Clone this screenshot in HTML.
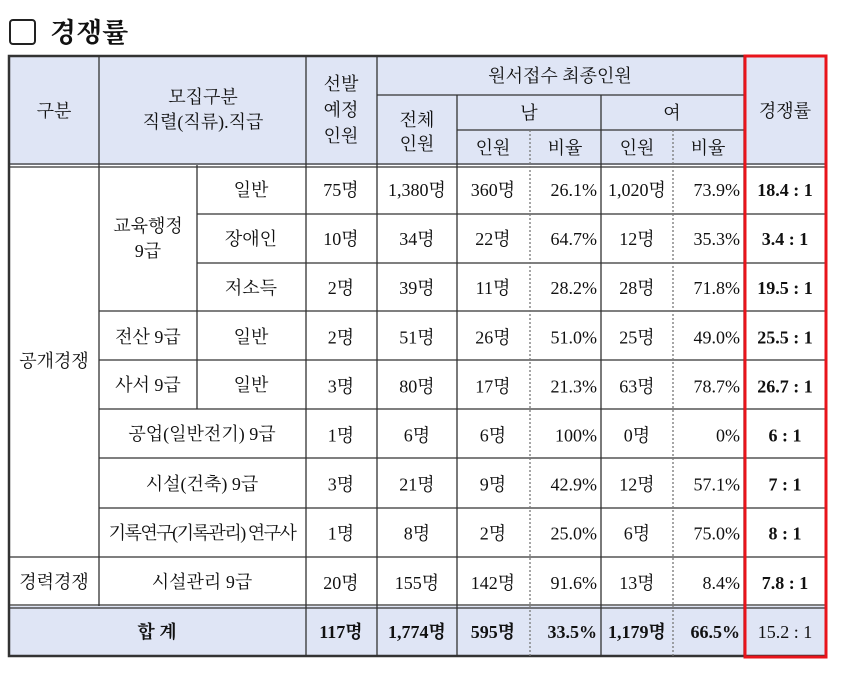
<!DOCTYPE html>
<html><head><meta charset="utf-8"><style>
body{margin:0;background:#fff;width:850px;height:672px;overflow:hidden}
svg text{font-family:"Liberation Serif","Noto Serif CJK SC","Noto Serif CJK KR",serif;font-size:18px;fill:#111}
.b{font-weight:bold}
</style></head><body>
<svg width="850" height="672">
<rect x="10" y="20" width="25" height="24" rx="3" fill="none" stroke="#222" stroke-width="2"/>
<text x="50" y="42" style="font-size:27px;font-weight:bold">경쟁률</text>
<rect x="9" y="56" width="817" height="109" fill="#dfe5f5"/>
<rect x="9" y="606" width="817" height="50" fill="#dfe5f5"/>
<g stroke="#333" stroke-width="1.3" fill="none">
<rect x="9" y="56" width="817" height="600" stroke-width="2.5"/>
<line x1="9" y1="164" x2="826" y2="164"/><line x1="9" y1="167" x2="826" y2="167"/>
<line x1="9" y1="557" x2="826" y2="557"/>
<line x1="9" y1="605" x2="826" y2="605"/><line x1="9" y1="608" x2="826" y2="608"/>
<line x1="99" y1="56" x2="99" y2="606"/>
<line x1="197" y1="165" x2="197" y2="409"/>
<line x1="306" y1="56" x2="306" y2="656"/>
<line x1="377" y1="56" x2="377" y2="656"/>
<line x1="457" y1="95" x2="457" y2="656"/>
<line x1="601" y1="95" x2="601" y2="656"/>
<line x1="744" y1="56" x2="744" y2="656"/>
<line x1="377" y1="95" x2="744" y2="95"/>
<line x1="457" y1="130" x2="744" y2="130"/>
<line x1="197" y1="214" x2="826" y2="214"/>
<line x1="197" y1="263" x2="826" y2="263"/>
<line x1="99" y1="311" x2="826" y2="311"/>
<line x1="99" y1="360" x2="826" y2="360"/>
<line x1="99" y1="409" x2="826" y2="409"/>
<line x1="99" y1="458" x2="826" y2="458"/>
<line x1="99" y1="508" x2="826" y2="508"/>
<g stroke-dasharray="2,2" stroke="#777"><line x1="530" y1="130" x2="530" y2="656"/><line x1="673" y1="130" x2="673" y2="656"/></g>
</g>
<g text-anchor="middle">
<text x="54" y="117">구분</text>
<text x="203" y="103">모집구분</text>
<text x="203" y="128">직렬(직류).직급</text>
<text x="341" y="90">선발</text><text x="341" y="116">예정</text><text x="341" y="142">인원</text>
<text x="560" y="82">원서접수 최종인원</text>
<text x="417" y="126">전체</text><text x="417" y="150">인원</text>
<text x="529" y="119">남</text><text x="672" y="119">여</text>
<text x="493" y="154">인원</text><text x="565" y="154">비율</text>
<text x="637" y="154">인원</text><text x="708" y="154">비율</text>
<text x="785" y="117">경쟁률</text>
<text x="54" y="367">공개경쟁</text>
<text x="54" y="588">경력경쟁</text>
<text x="148" y="232">교육행정</text><text x="148" y="257">9급</text>
<text x="251" y="196">일반</text><text x="251" y="245">장애인</text><text x="251" y="294">저소득</text>
<text x="148" y="343">전산 9급</text><text x="251" y="343">일반</text>
<text x="148" y="391">사서 9급</text><text x="251" y="391">일반</text>
<text x="202" y="440">공업(일반전기) 9급</text>
<text x="202" y="490">시설(건축) 9급</text>
<text x="202" y="539" style="letter-spacing:-1.5px">기록연구(기록관리) 연구사</text>
<text x="202" y="588">시설관리 9급</text>
<text x="157" y="638" class="b">합 계</text>
</g>
<g id="rows"></g>
<rect x="745" y="56" width="81" height="601" fill="none" stroke="#e8141b" stroke-width="3"/>
</svg>
<script>
const sel=["75명","10명","2명","2명","3명","1명","3명","1명","20명","117명"];
const tot=["1,380명","34명","39명","51명","80명","6명","21명","8명","155명","1,774명"];
const male=["360명","22명","11명","26명","17명","6명","9명","2명","142명","595명"];
const mr=["26.1%","64.7%","28.2%","51.0%","21.3%","100%","42.9%","25.0%","91.6%","33.5%"];
const fem=["1,020명","12명","28명","25명","63명","0명","12명","6명","13명","1,179명"];
const fr=["73.9%","35.3%","71.8%","49.0%","78.7%","0%","57.1%","75.0%","8.4%","66.5%"];
const ratio=["18.4 : 1","3.4 : 1","19.5 : 1","25.5 : 1","26.7 : 1","6 : 1","7 : 1","8 : 1","7.8 : 1","15.2 : 1"];
var g=document.getElementById('rows');
var NS="http://www.w3.org/2000/svg";
function addCell(x,y,s,anchor,bold){
 var e=document.createElementNS(NS,'text');
 e.setAttribute('x',x);e.setAttribute('y',y);e.setAttribute('text-anchor',anchor);
 if(bold)e.setAttribute('class','b');
 e.textContent=s;
 
 
 g.appendChild(e);
}
for(var i=0;i<sel.length;i++){
 var y=196+i*49.1;var last=i==9;
 addCell(341,y,sel[i],'middle',last);addCell(417,y,tot[i],'middle',last);addCell(493,y,male[i],'middle',last);
 addCell(597,y,mr[i],'end',last);addCell(637,y,fem[i],'middle',last);addCell(740,y,fr[i],'end',last);
 addCell(785,y,ratio[i],'middle',i<9);
}
</script>
</body></html>
